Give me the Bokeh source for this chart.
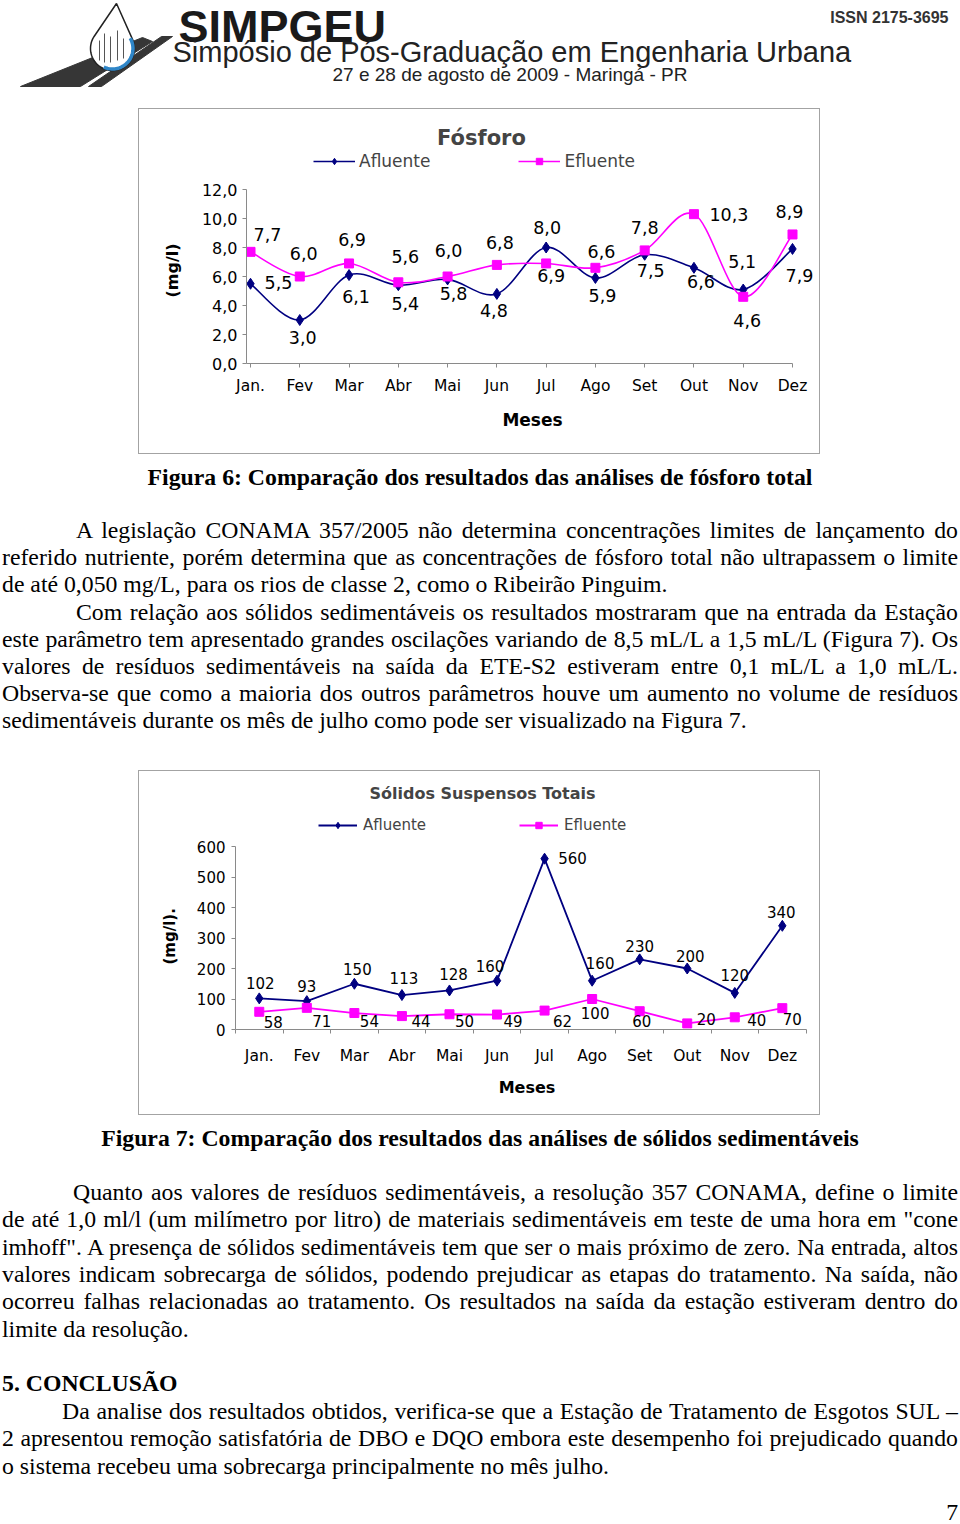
import numpy as np
from bokeh.plotting import figure
from bokeh.models import (Range1d, FixedTicker, Label, Legend, LegendItem,
                          ColumnDataSource, Div, Spacer, Title)
from bokeh.layouts import column, row
from bokeh.core.properties import value
from bokeh.embed import file_html
from bokeh.resources import INLINE

# ---------------- data ----------------
months = ["Jan.", "Fev", "Mar", "Abr", "Mai", "Jun", "Jul", "Ago", "Set", "Out", "Nov", "Dez"]

fosforo_afluente = [5.5, 3.0, 6.1, 5.4, 5.8, 4.8, 8.0, 5.9, 7.5, 6.6, 5.1, 7.9]
fosforo_efluente = [7.7, 6.0, 6.9, 5.6, 6.0, 6.8, 6.9, 6.6, 7.8, 10.3, 4.6, 8.9]
fosforo_yticks = [0, 2, 4, 6, 8, 10, 12]
fosforo_ytick_labels = ["0,0", "2,0", "4,0", "6,0", "8,0", "10,0", "12,0"]

sst_afluente = [102, 93, 150, 113, 128, 160, 560, 160, 230, 200, 120, 340]
sst_efluente = [58, 71, 54, 44, 50, 49, 62, 100, 60, 20, 40, 70]
sst_yticks = [0, 100, 200, 300, 400, 500, 600]
sst_ytick_labels = ["0", "100", "200", "300", "400", "500", "600"]

# ---------------- label placement (pixel offsets) ----------------
c1_afl_dx = [28, 3, 7, 7, 6, -3, 1, 7, 6, 7, -1, 7]
c1_afl_dy = [-1, 17, 21, 18, 14, 17, -20, 18, 16, 14, -28, 27]
c1_efl_dx = [17, 4, 3, 7, 1, 3, 5, 6, 0, 35, 4, -3]
c1_efl_dy = [-17, -23, -24, -26, -26, -22, 12, -16, -23, 0, 24, -23]

c2_afl_dx = [1, 0, 3, 2, 4, -7, 28, 8, 0, 3, 0, -1]
c2_afl_dy = [-15, -15, -15, -17, -16, -15, -1, -18, -13, -13, -18, -14]
c2_efl_dx = [14, 15, 15, 19, 15, 16, 18, 3, 2, 19, 22, 10]
c2_efl_dy = [10, 13, 8, 5, 7, 6, 10, 14, 10, -4, 3, 11]

SANS = "DejaVu Sans"
NAVY = "#000080"
MAGENTA = "#FF00FF"
AXIS_GREY = "#8a8a8a"
BOX_STYLE = {"outline": "1px solid #a3a3a3", "outline-offset": "-1px"}
PAGE_W = 960


def fmt_pt(v):
    return f"{v:.1f}".replace(".", ",")


def bez_source(xs, ys):
    n = len(xs)
    d = {k: [] for k in ["x0", "y0", "x1", "y1", "cx0", "cy0", "cx1", "cy1"]}
    for i in range(n - 1):
        i0 = max(i - 1, 0)
        i3 = min(i + 2, n - 1)
        d["x0"].append(xs[i]); d["y0"].append(ys[i])
        d["x1"].append(xs[i + 1]); d["y1"].append(ys[i + 1])
        d["cx0"].append(xs[i] + (xs[i + 1] - xs[i0]) / 6.0)
        d["cy0"].append(ys[i] + (ys[i + 1] - ys[i0]) / 6.0)
        d["cx1"].append(xs[i + 1] - (xs[i3] - xs[i]) / 6.0)
        d["cy1"].append(ys[i + 1] - (ys[i3] - ys[i]) / 6.0)
    return ColumnDataSource(d)


def style_axes(p, tick_font_x, tick_font_y):
    p.xgrid.visible = False
    p.ygrid.visible = False
    p.outline_line_color = None
    p.background_fill_alpha = 0
    p.border_fill_alpha = 0
    for ax, fs in ((p.xaxis[0], tick_font_x), (p.yaxis[0], tick_font_y)):
        ax.axis_line_color = AXIS_GREY
        ax.major_tick_line_color = AXIS_GREY
        ax.minor_tick_line_color = None
        ax.major_tick_in = 0
        ax.major_label_text_font = SANS
        ax.major_label_text_font_size = fs
        ax.major_label_text_color = "black"
        ax.axis_label_text_font = SANS
        ax.axis_label_text_font_style = "bold"
        ax.axis_label_text_color = "black"


# ======================= header =======================
HDR_H = 108
hdr = figure(width=PAGE_W, height=HDR_H, x_range=Range1d(0, PAGE_W), y_range=Range1d(HDR_H, 0),
             min_border=0, toolbar_location=None, output_backend="svg", title=None,
             x_axis_type=None, y_axis_type=None)
hdr.outline_line_color = None
hdr.xgrid.visible = False
hdr.ygrid.visible = False
# road
hdr.patch([20, 80, 152, 142], [86, 86, 41, 37], color="#363636")
hdr.patch([88, 101, 172, 161], [86, 86, 36, 36], color="#363636")
# drop
cx, cy, r = 112.0, 48.0, 22.0
ang = np.radians(np.linspace(-25.2, 213.2, 60))
dx = list(cx + r * np.cos(ang)) + [116.0]
dy = list(cy + r * np.sin(ang)) + [3.0]
hdr.patch(dx, dy, fill_color="white", line_color="#222222", line_width=1.5)
ang2 = np.radians(np.linspace(-30, 115, 40))
hdr.line(list(cx + (r - 1.5) * np.cos(ang2)), list(cy + (r - 1.5) * np.sin(ang2)),
         line_color="#2f86c8", line_width=3.5)
hdr.multi_line([[99, 99], [104, 104], [110, 110], [117, 117], [123, 123]],
               [[60, 40], [62, 33], [62, 36], [60, 30], [58, 38]],
               line_color="#555555", line_width=1)
hdr.text(x=[178], y=[25.5], text=["SIMPGEU"], text_font=value("Liberation Sans"),
         text_font_style="bold", text_font_size="45px", text_baseline="middle",
         text_color="#1a1a1a")
hdr.text(x=[172], y=[51], text=["Simpósio de Pós-Graduação em Engenharia Urbana"],
         text_font=value("Liberation Sans"), text_font_size="29px",
         text_baseline="middle", text_color="#222222")
hdr.text(x=[332], y=[74], text=["27 e 28 de agosto de 2009 - Maringá - PR"],
         text_font=value("Liberation Sans"), text_font_size="19px",
         text_baseline="middle", text_color="#222222")
hdr.text(x=[948], y=[17], text=["ISSN 2175-3695"], text_font=value("Liberation Sans"),
         text_font_style="bold", text_font_size="16px", text_align="right",
         text_baseline="middle", text_color="#333333")

# ======================= chart 1: Fósforo =======================
C1_LEFT, C1_TOP, C1_W, C1_H = 138, 108, 682, 346
F1_L, F1_R, F1_T, F1_B = 246, 818, 112, 363
X0_PX, X11_PX, Y0_PX, Y12_PX = 250.0, 792.0, 363.0, 189.0
xper1 = (X11_PX - X0_PX) / 11.0
yper1 = (Y0_PX - Y12_PX) / 12.0


def c1x(px):
    return (px - X0_PX) / xper1


def c1y(py):
    return (Y0_PX - py) / yper1


p1 = figure(width=C1_W, height=C1_H, title=None,
            x_range=Range1d(c1x(F1_L), c1x(F1_R)), y_range=Range1d(c1y(F1_B), c1y(F1_T)),
            toolbar_location=None, output_backend="svg",
            min_border_left=F1_L - C1_LEFT, min_border_right=C1_LEFT + C1_W - F1_R,
            min_border_top=F1_T - C1_TOP, min_border_bottom=C1_TOP + C1_H - F1_B,
            styles=BOX_STYLE)
style_axes(p1, "15.5px", "16px")
xa = p1.xaxis[0]
xa.ticker = FixedTicker(ticks=list(range(12)), minor_ticks=[])
xa.major_label_overrides = {i: m for i, m in enumerate(months)}
xa.bounds = (c1x(F1_L), 11)
xa.major_tick_out = 4
xa.major_label_standoff = 9
xa.axis_label = "Meses"
xa.axis_label_text_font_size = "17px"
xa.axis_label_standoff = 12
ya = p1.yaxis[0]
ya.ticker = FixedTicker(ticks=fosforo_yticks, minor_ticks=[])
ya.major_label_overrides = {t: l for t, l in zip(fosforo_yticks, fosforo_ytick_labels)}
ya.bounds = (0, 12)
ya.major_tick_out = 4
ya.major_label_standoff = 5
# y-axis title: text runs upward from (frame bottom - offset)
p1.add_layout(Title(text="(mg/l)", align="left", offset=F1_B - 297,
                    standoff=34, text_font=SANS, text_font_size="16px",
                    text_font_style="bold", text_color="black"), "left")

xs = list(range(12))
bz_a = p1.bezier(x0="x0", y0="y0", x1="x1", y1="y1", cx0="cx0", cy0="cy0", cx1="cx1",
                 cy1="cy1", source=bez_source(xs, fosforo_afluente),
                 line_color=NAVY, line_width=1.6)
bz_e = p1.bezier(x0="x0", y0="y0", x1="x1", y1="y1", cx0="cx0", cy0="cy0", cx1="cx1",
                 cy1="cy1", source=bez_source(xs, fosforo_efluente),
                 line_color=MAGENTA, line_width=1.6)
sc_a = p1.scatter(xs, fosforo_afluente, marker="diamond", size=11,
                  fill_color=NAVY, line_color=NAVY)
sc_e = p1.scatter(xs, fosforo_efluente, marker="square", size=9,
                  fill_color=MAGENTA, line_color=MAGENTA)

lab1 = ColumnDataSource(dict(
    x=xs + xs,
    y=fosforo_afluente + fosforo_efluente,
    t=[fmt_pt(v) for v in fosforo_afluente] + [fmt_pt(v) for v in fosforo_efluente],
    dx=c1_afl_dx + c1_efl_dx,
    dy=c1_afl_dy + c1_efl_dy))
p1.text(x="x", y="y", text="t", x_offset="dx", y_offset="dy", source=lab1,
        text_font=value(SANS), text_font_size="17.5px", text_align="center",
        text_baseline="middle", text_color="black")

p1.add_layout(Label(x=c1x(481), y=c1y(137), text="Fósforo", text_font=SANS,
                    text_font_size="21px", text_font_style="bold",
                    text_align="center", text_baseline="middle"))
leg1 = Legend(items=[LegendItem(label="Afluente", renderers=[bz_a, sc_a]),
                     LegendItem(label="Efluente", renderers=[bz_e, sc_e])],
              orientation="horizontal", location=(313 - F1_L, F1_B - 171),
              glyph_width=42, glyph_height=16, label_height=16, label_standoff=4,
              spacing=88, padding=0, margin=0, border_line_color=None,
              background_fill_alpha=0, label_text_font=SANS,
              label_text_font_size="17px")
p1.add_layout(leg1)

# ======================= chart 2: Sólidos =======================
C2_LEFT, C2_TOP, C2_W, C2_H = 138, 770, 682, 345
F2_L, F2_R, F2_T, F2_B = 235, 818, 774, 1029
XL_PX, XR_PX, S0_PX, S600_PX = 235.0, 805.6, 1029.0, 846.0
xper2 = (XR_PX - XL_PX) / 12.0
yper2 = (S0_PX - S600_PX) / 600.0


def c2x(px):
    return -0.5 + (px - XL_PX) / xper2


def c2y(py):
    return (S0_PX - py) / yper2


p2 = figure(width=C2_W, height=C2_H, title=None,
            x_range=Range1d(c2x(F2_L), c2x(F2_R)), y_range=Range1d(c2y(F2_B), c2y(F2_T)),
            toolbar_location=None, output_backend="svg",
            min_border_left=F2_L - C2_LEFT, min_border_right=C2_LEFT + C2_W - F2_R,
            min_border_top=F2_T - C2_TOP, min_border_bottom=C2_TOP + C2_H - F2_B,
            styles=BOX_STYLE)
style_axes(p2, "15.5px", "15px")
xb = p2.xaxis[0]
xb.ticker = FixedTicker(ticks=list(range(12)), minor_ticks=[i - 0.5 for i in range(13)])
xb.major_label_overrides = {i: m for i, m in enumerate(months)}
xb.bounds = (-0.5, 11.5)
xb.major_tick_out = 0
xb.minor_tick_line_color = AXIS_GREY
xb.minor_tick_in = 0
xb.minor_tick_out = 4
xb.major_label_standoff = 13
xb.axis_label = "Meses"
xb.axis_label_text_font_size = "16px"
xb.axis_label_standoff = 10
yb = p2.yaxis[0]
yb.ticker = FixedTicker(ticks=sst_yticks, minor_ticks=[])
yb.major_label_overrides = {t: l for t, l in zip(sst_yticks, sst_ytick_labels)}
yb.bounds = (0, 600)
yb.major_tick_out = 4
yb.major_label_standoff = 6
p2.add_layout(Title(text="(mg/l).", align="left", offset=F2_B - 964,
                    standoff=29, text_font=SANS, text_font_size="15px",
                    text_font_style="bold", text_color="black"), "left")

ln_a = p2.line(xs, sst_afluente, line_color=NAVY, line_width=1.8)
ln_e = p2.line(xs, sst_efluente, line_color=MAGENTA, line_width=1.8)
s2_a = p2.scatter(xs, sst_afluente, marker="diamond", size=11,
                  fill_color=NAVY, line_color=NAVY)
s2_e = p2.scatter(xs, sst_efluente, marker="square", size=9,
                  fill_color=MAGENTA, line_color=MAGENTA)
lab2 = ColumnDataSource(dict(
    x=xs + xs,
    y=sst_afluente + sst_efluente,
    t=[str(v) for v in sst_afluente] + [str(v) for v in sst_efluente],
    dx=c2_afl_dx + c2_efl_dx,
    dy=c2_afl_dy + c2_efl_dy))
p2.text(x="x", y="y", text="t", x_offset="dx", y_offset="dy", source=lab2,
        text_font=value(SANS), text_font_size="15px", text_align="center",
        text_baseline="middle", text_color="black")
p2.add_layout(Label(x=c2x(482), y=c2y(793), text="Sólidos Suspensos Totais", text_font=SANS,
                    text_font_size="16px", text_font_style="bold",
                    text_align="center", text_baseline="middle"))
leg2 = Legend(items=[LegendItem(label="Afluente", renderers=[ln_a, s2_a]),
                     LegendItem(label="Efluente", renderers=[ln_e, s2_e])],
              orientation="horizontal", location=(318 - F2_L, F2_B - 834),
              glyph_width=39, glyph_height=16, label_height=16, label_standoff=6,
              spacing=93, padding=0, margin=0, border_line_color=None,
              background_fill_alpha=0, label_text_font=SANS,
              label_text_font_size="15px")
p2.add_layout(leg2)

# ======================= text blocks =======================
HALF = 13.6
WRAP = ("position:relative;left:2px;width:956px;height:{h}px;"
        "font-family:'Liberation Serif','Times New Roman',serif;font-size:23.75px;"
        "line-height:27.2px;color:#000;")


def ln(text, center, top0, kind="just", indent=0, lh=None):
    half = HALF if lh is None else lh / 2.0
    top = center - top0 - half
    base = f"position:absolute;left:{indent}px;width:{956 - indent}px;top:{top:.1f}px;"
    if lh is not None:
        base += f"line-height:{lh}px;"
    if kind == "just":
        st = base + "text-align:justify;text-align-last:justify;"
    elif kind == "left":
        st = base + "text-align:left;"
    elif kind == "center_bold":
        st = base + "text-align:center;font-weight:bold;"
    elif kind == "left_bold":
        st = base + "text-align:left;font-weight:bold;"
    else:
        st = base + "text-align:right;"
    return f'<div style="{st}">{text}</div>'


T1 = C1_TOP + C1_H
H1 = C2_TOP - T1
p1_lines = [
    ("A legislação CONAMA 357/2005 não determina concentrações limites de lançamento do", "just", 74),
    ("referido nutriente, porém determina que as concentrações de fósforo total não ultrapassem o limite", "just", 0),
    ("de até 0,050 mg/L, para os rios de classe 2, como o Ribeirão Pinguim.", "left", 0),
    ("Com relação aos sólidos sedimentáveis os resultados mostraram que na entrada da Estação", "just", 74),
    ("este parâmetro tem apresentado grandes oscilações variando de 8,5 mL/L a 1,5 mL/L (Figura 7). Os", "just", 0),
    ("valores de resíduos sedimentáveis na saída da ETE-S2 estiveram entre 0,1 mL/L a 1,0 mL/L.", "just", 0),
    ("Observa-se que como a maioria dos outros parâmetros houve um aumento no volume de resíduos", "just", 0),
    ("sedimentáveis durante os mês de julho como pode ser visualizado na Figura 7.", "left", 0),
]
html1 = ln("Figura 6: Comparação dos resultados das análises de fósforo total", 477.3, T1, "center_bold")
for k, (t, kind, ind) in enumerate(p1_lines):
    html1 += ln(t, 530.7 + k * 27.14, T1, kind, ind)
div1 = Div(text=f'<div style="{WRAP.format(h=H1)}">{html1}</div>', width=PAGE_W, height=H1,
           margin=0)

T2 = C2_TOP + C2_H
H2 = 1524 - T2
p3_lines = [
    ("Quanto aos valores de resíduos sedimentáveis, a resolução 357 CONAMA, define o limite", "just", 71),
    ("de até 1,0 ml/l (um milímetro por litro) de materiais sedimentáveis em teste de uma hora em &quot;cone", "just", 0),
    ("imhoff&quot;. A presença de sólidos sedimentáveis tem que ser o mais próximo de zero. Na entrada, altos", "just", 0),
    ("valores indicam sobrecarga de sólidos, podendo prejudicar as etapas do tratamento. Na saída, não", "just", 0),
    ("ocorreu falhas relacionadas ao tratamento. Os resultados na saída da estação estiveram dentro do", "just", 0),
    ("limite da resolução.", "left", 0),
]
p4_lines = [
    ("Da analise dos resultados obtidos, verifica-se que a Estação de Tratamento de Esgotos SUL –", "just", 60),
    ("2 apresentou remoção satisfatória de DBO e DQO embora este desempenho foi prejudicado quando", "just", 0),
    ("o sistema recebeu uma sobrecarga principalmente no mês julho.", "left", 0),
]
html2 = ln("Figura 7: Comparação dos resultados das análises de sólidos sedimentáveis", 1138.3, T2, "center_bold")
for k, (t, kind, ind) in enumerate(p3_lines):
    html2 += ln(t, 1192.7 + k * 27.3, T2, kind, ind)
html2 += ln("5. CONCLUSÃO", 1384.0, T2, "left_bold")
for k, (t, kind, ind) in enumerate(p4_lines):
    html2 += ln(t, 1411.7 + k * 27.3, T2, kind, ind)
html2 += ln("7", 1512.0, T2, "right", lh=18)
div2 = Div(text=f'<div style="{WRAP.format(h=H2)}">{html2}</div>', width=PAGE_W, height=H2,
           margin=0)

layout = column(
    hdr,
    row(Spacer(width=C1_LEFT, height=C1_H), p1,
        Spacer(width=PAGE_W - C1_LEFT - C1_W, height=C1_H)),
    div1,
    row(Spacer(width=C2_LEFT, height=C2_H), p2,
        Spacer(width=PAGE_W - C2_LEFT - C2_W, height=C2_H)),
    div2,
)

open("out.html", "w").write(file_html(layout, INLINE))
